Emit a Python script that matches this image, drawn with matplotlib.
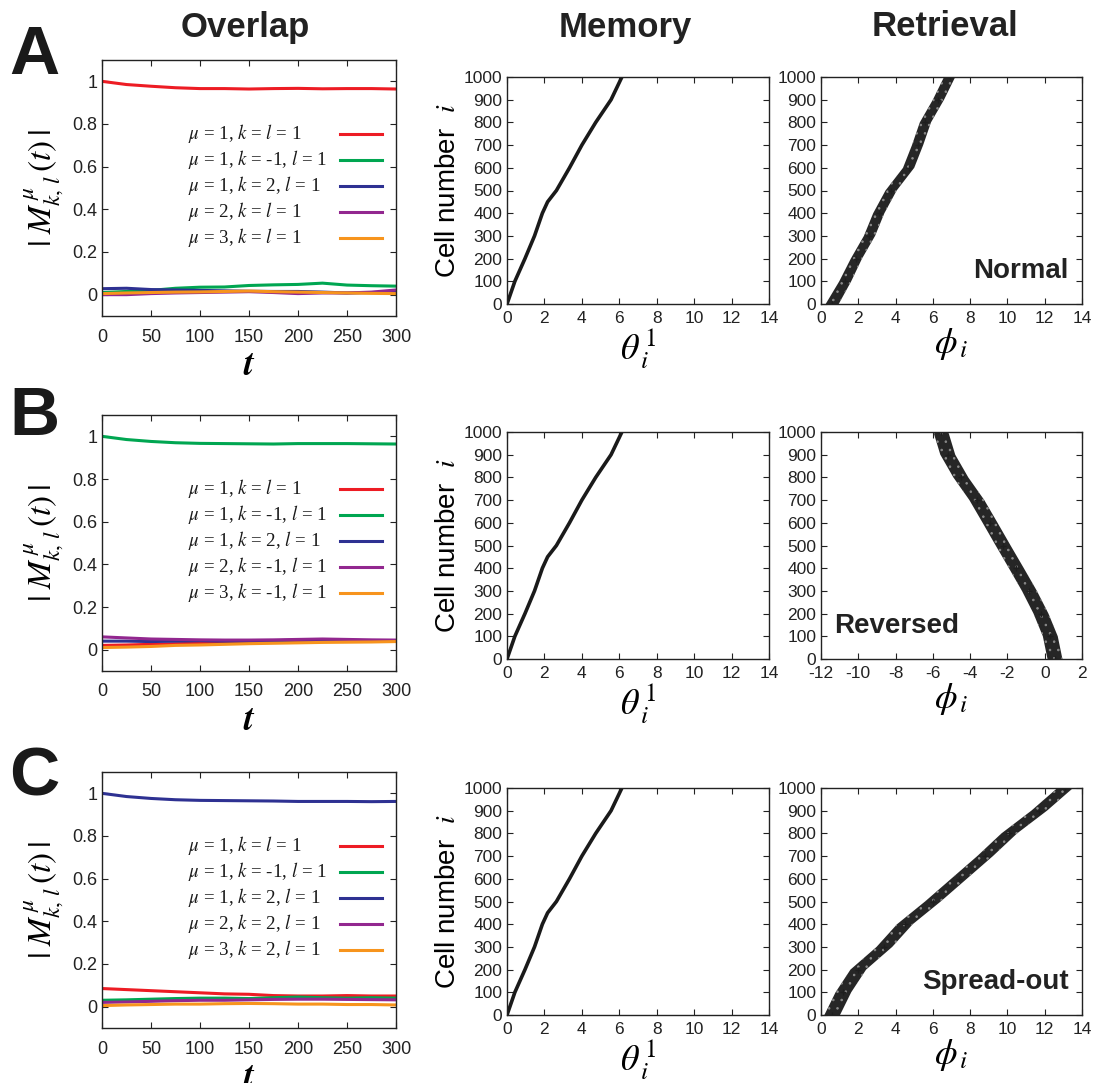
import numpy as np
import matplotlib
matplotlib.use("Agg")
import matplotlib.pyplot as plt

plt.rcParams['font.family'] = ['Liberation Sans', 'DejaVu Sans']
plt.rcParams['mathtext.fontset'] = 'stix'
plt.rcParams['axes.unicode_minus'] = False
plt.rcParams['hatch.linewidth'] = 0.6

W, H = 1099, 1083

# overlap time courses
t = [0, 25, 50, 75, 100, 125, 150, 175, 200, 225, 250, 275, 300]

overlap_A = {
    'red':    [1.0, 0.985, 0.977, 0.970, 0.966, 0.966, 0.964, 0.966, 0.967, 0.965, 0.966, 0.966, 0.964],
    'green':  [0.01, 0.015, 0.02, 0.03, 0.035, 0.036, 0.043, 0.046, 0.048, 0.054, 0.045, 0.042, 0.04],
    'blue':   [0.028, 0.03, 0.024, 0.022, 0.02, 0.018, 0.016, 0.015, 0.015, 0.012, 0.008, 0.01, 0.012],
    'purple': [0.0, 0.0, 0.005, 0.008, 0.01, 0.012, 0.014, 0.01, 0.005, 0.008, 0.008, 0.012, 0.022],
    'orange': [0.005, 0.008, 0.01, 0.012, 0.013, 0.015, 0.017, 0.014, 0.012, 0.01, 0.008, 0.006, 0.005],
}
overlap_B = {
    'red':    [0.02, 0.022, 0.025, 0.028, 0.03, 0.032, 0.035, 0.036, 0.038, 0.04, 0.04, 0.042, 0.042],
    'green':  [1.0, 0.985, 0.976, 0.97, 0.967, 0.966, 0.965, 0.964, 0.966, 0.966, 0.966, 0.965, 0.964],
    'blue':   [0.04, 0.04, 0.038, 0.04, 0.042, 0.04, 0.04, 0.042, 0.045, 0.042, 0.044, 0.042, 0.04],
    'purple': [0.06, 0.055, 0.05, 0.048, 0.046, 0.045, 0.045, 0.046, 0.048, 0.05, 0.048, 0.046, 0.045],
    'orange': [0.01, 0.012, 0.015, 0.02, 0.022, 0.025, 0.028, 0.03, 0.032, 0.034, 0.035, 0.036, 0.038],
}
overlap_C = {
    'red':    [0.085, 0.08, 0.075, 0.07, 0.065, 0.06, 0.058, 0.052, 0.05, 0.05, 0.052, 0.05, 0.05],
    'green':  [0.03, 0.032, 0.035, 0.038, 0.04, 0.04, 0.038, 0.042, 0.045, 0.042, 0.04, 0.042, 0.04],
    'blue':   [1.0, 0.985, 0.976, 0.97, 0.967, 0.966, 0.965, 0.964, 0.962, 0.962, 0.962, 0.961, 0.962],
    'purple': [0.02, 0.022, 0.025, 0.028, 0.03, 0.03, 0.032, 0.034, 0.035, 0.035, 0.034, 0.033, 0.032],
    'orange': [0.005, 0.008, 0.01, 0.012, 0.012, 0.014, 0.015, 0.014, 0.012, 0.012, 0.01, 0.01, 0.008],
}

labels_A = [r'$\mu$ = 1, $k$ = $l$ = 1', r'$\mu$ = 1, $k$ = -1, $l$ = 1', r'$\mu$ = 1, $k$ = 2, $l$ = 1',
            r'$\mu$ = 2, $k$ = $l$ = 1', r'$\mu$ = 3, $k$ = $l$ = 1']
labels_B = [r'$\mu$ = 1, $k$ = $l$ = 1', r'$\mu$ = 1, $k$ = -1, $l$ = 1', r'$\mu$ = 1, $k$ = 2, $l$ = 1',
            r'$\mu$ = 2, $k$ = -1, $l$ = 1', r'$\mu$ = 3, $k$ = -1, $l$ = 1']
labels_C = [r'$\mu$ = 1, $k$ = $l$ = 1', r'$\mu$ = 1, $k$ = -1, $l$ = 1', r'$\mu$ = 1, $k$ = 2, $l$ = 1',
            r'$\mu$ = 2, $k$ = 2, $l$ = 1', r'$\mu$ = 3, $k$ = 2, $l$ = 1']

colors = {'red': '#ed1c24', 'green': '#00a651', 'blue': '#2e3192',
          'purple': '#92278f', 'orange': '#f7941d'}
order = ['red', 'green', 'blue', 'purple', 'orange']

# stored pattern (same in all rows)
mem_cells = [0, 100, 200, 300, 400, 450, 500, 600, 700, 800, 900, 950, 1000]
mem_theta = [0, 0.42, 0.96, 1.47, 1.89, 2.17, 2.64, 3.34, 4.0, 4.74, 5.56, 5.85, 6.14]

# retrieved phases: band centre and half width
ret_cells = [0, 100, 200, 300, 400, 500, 600, 700, 800, 900, 1000]
ret_A = [0.6, 1.3, 1.9, 2.6, 3.1, 3.76, 4.7, 5.18, 5.6, 6.3, 6.9]
ret_A_hw = [0.35, 0.32, 0.3, 0.3, 0.3, 0.3, 0.3, 0.3, 0.3, 0.3, 0.3]
ret_B = [0.55, 0.3, -0.2, -0.82, -1.52, -2.23, -2.93, -3.64, -4.5, -5.2, -5.57]
ret_B_hw = [0.4, 0.4, 0.4, 0.4, 0.4, 0.4, 0.4, 0.4, 0.4, 0.4, 0.4]
ret_C = [0.6, 1.2, 2.0, 3.4, 4.5, 6.0, 7.4, 8.8, 10.1, 11.7, 13.1]
ret_C_hw = [0.42, 0.42, 0.42, 0.42, 0.42, 0.42, 0.42, 0.42, 0.42, 0.42, 0.42]

fig = plt.figure(figsize=(W / 100, H / 100), dpi=100)


def box(l, r, top, bot):
    return [l / W, 1 - bot / H, (r - l) / W, (bot - top) / H]


def style(ax, fs=12, xpad=4):
    ax.tick_params(direction='in', top=True, right=True, labelsize=fs,
                   length=4, width=0.8, colors='#222222')
    ax.tick_params(axis='x', pad=xpad)
    for s in ax.spines.values():
        s.set_linewidth(1.0)
        s.set_color('#222222')


row_tops = [60, 415, 772]
mem_tops = [77, 432, 788]
data_rows = [(overlap_A, labels_A, ret_A, ret_A_hw, 'Normal'),
             (overlap_B, labels_B, ret_B, ret_B_hw, 'Reversed'),
             (overlap_C, labels_C, ret_C, ret_C_hw, 'Spread-out')]

for r, (ov, labs, ret, hw, tag) in enumerate(data_rows):
    top = row_tops[r]
    ax = fig.add_axes(box(102, 396, top, top + 256))
    for c in order:
        ax.plot(t, ov[c], color=colors[c], lw=2.2)
    ax.set_xlim(0, 300)
    ax.set_ylim(-0.1, 1.1)
    ax.set_xticks(range(0, 301, 50))
    ax.set_yticks([0, 0.2, 0.4, 0.6, 0.8, 1])
    ax.set_yticklabels(['0', '0.2', '0.4', '0.6', '0.8', '1'])
    style(ax, 13, xpad=9)
    ax.set_xlabel(r'$\boldsymbol{t}$', fontsize=26, labelpad=2)
    ax.set_ylabel(r'$|\; M^{\,\mu}_{k,\, l}\,(t)\,|$', fontsize=24, labelpad=4)

    # key: left-aligned labels with the line samples in a column on the right
    for j, (c, lab) in enumerate(zip(order, labs)):
        yk = 0.712 - j * 0.1016
        ax.text(0.293, yk, lab, transform=ax.transAxes, va='center', ha='left',
                fontsize=13.6, family='Liberation Serif', color='#1a1a1a')
        ax.plot([0.81, 0.952], [yk, yk], transform=ax.transAxes,
                color=colors[c], lw=2.2)

    mtop = mem_tops[r]
    ax2 = fig.add_axes(box(507, 769, mtop, mtop + 227))
    ax2.plot(mem_theta, mem_cells, color='#1a1a1a', lw=2.6)
    ax2.set_xlim(0, 14)
    ax2.set_ylim(0, 1000)
    ax2.set_xticks(range(0, 15, 2))
    ax2.set_yticks(range(0, 1001, 100))
    style(ax2, 12.5, xpad=5)
    ax2.set_xlabel(r'$\theta^{\,1}_{\,i}$', fontsize=26, labelpad=0)
    ax2.set_ylabel(r'Cell number  $i$', fontsize=20, labelpad=2)

    ax3 = fig.add_axes(box(821, 1082, mtop, mtop + 227))
    ret = np.array(ret)
    hw = np.array(hw)
    ax3.fill_betweenx(ret_cells, ret - hw, ret + hw, facecolor='#262626',
                      edgecolor='#8a8a8a', hatch='..', lw=0)
    ax3.plot(ret, ret_cells, ls='none', marker='+', ms=4, color='#1e1e1e')
    if r == 1:
        ax3.set_xlim(-12, 2)
        ax3.set_xticks(range(-12, 3, 2))
        ax3.text(0.05, 0.09, tag, transform=ax3.transAxes, fontsize=20,
                 fontweight='bold', color='#222222', ha='left', va='bottom')
    else:
        ax3.set_xlim(0, 14)
        ax3.set_xticks(range(0, 15, 2))
        ax3.text(0.95, 0.09, tag, transform=ax3.transAxes, fontsize=20,
                 fontweight='bold', color='#222222', ha='right', va='bottom')
    ax3.set_ylim(0, 1000)
    ax3.set_yticks(range(0, 1001, 100))
    style(ax3, 12.5, xpad=5)
    ax3.set_xlabel(r'$\phi_{\,i}$', fontsize=26, labelpad=0)

# column titles and row letters
for x, s in [(245, 'Overlap'), (625, 'Memory'), (945, 'Retrieval')]:
    fig.text(x / W, 1 - 27 / H, s, fontsize=25, fontweight='bold',
             ha='center', va='center', color='#222222')
for y, s in [(56, 'A'), (417, 'B'), (778, 'C')]:
    fig.text(34 / W, 1 - y / H, s, fontsize=50, fontweight='bold',
             ha='center', va='center', color='#1a1a1a')

fig.savefig('out.png', dpi=100)
